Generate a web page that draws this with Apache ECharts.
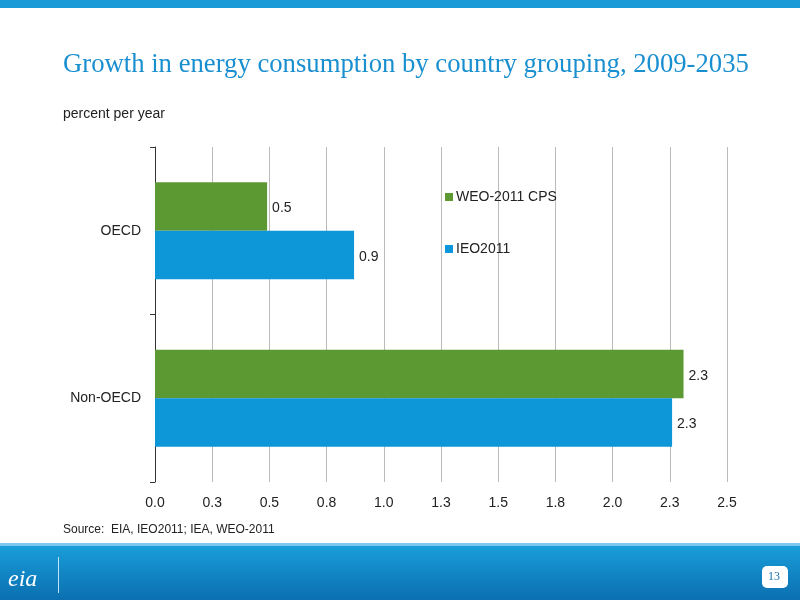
<!DOCTYPE html>
<html><head><meta charset="utf-8">
<script src="https://cdn.jsdelivr.net/npm/echarts@6/dist/echarts.min.js"></script>
<style>html,body{margin:0;padding:0;background:#fff}#chart{width:800px;height:600px}</style>
</head><body><div id="chart"></div>
<script>
// 数据
const categories = ['OECD', 'Non-OECD']
const weoValues = [0.49, 2.31]
const ieoValues = [0.87, 2.26]
const seriesNames = ['WEO-2011 CPS', 'IEO2011']

let chart = echarts.init(document.getElementById('chart'))

const barLabel = {
  show: true,
  position: 'right',
  color: '#222',
  fontSize: 14,
  fontFamily: 'Liberation Sans',
  offset: [0, 2],
  formatter: p => p.value.toFixed(1)
}

let option = {
  animation: false,
  textStyle: { fontFamily: 'Liberation Sans' },
  graphic: [
    { type: 'rect', shape: { x: 0, y: 0, width: 800, height: 8 }, style: { fill: '#1a9ad6' } },
    {
      type: 'rect', shape: { x: 0, y: 543, width: 800, height: 57 },
      style: {
        fill: new echarts.graphic.LinearGradient(0, 0, 0, 1, [
          { offset: 0, color: '#1aa0dc' }, { offset: 1, color: '#0b6fb0' }
        ])
      }
    },
    { type: 'rect', shape: { x: 0, y: 543, width: 800, height: 3 }, style: { fill: '#7cc8ee' } },
    { type: 'text', left: 8, top: 568, style: { text: 'eia', fill: '#fff', font: 'italic 24px Liberation Serif' } },
    { type: 'rect', shape: { x: 58, y: 557, width: 1, height: 36 }, style: { fill: '#bfe4f7' } },
    { type: 'rect', shape: { x: 762, y: 566, width: 26, height: 22, r: 5 }, style: { fill: '#fff' } },
    { type: 'text', left: 768, top: 571, style: { text: '13', fill: '#1a6fb0', font: '12px Liberation Serif' } },
    { type: 'text', left: 63, top: 51, style: { text: 'Growth in energy consumption by country grouping, 2009-2035', fill: '#1a8fd0', font: '26.7px Liberation Serif' } },
    { type: 'text', left: 63, top: 107, style: { text: 'percent per year', fill: '#222', font: '14px Liberation Sans' } },
    { type: 'text', left: 63, top: 524, style: { text: 'Source:  EIA, IEO2011; IEA, WEO-2011', fill: '#222', font: '12px Liberation Sans' } }
  ],
  legend: {
    orient: 'vertical',
    left: 440,
    top: 185,
    itemGap: 38,
    itemWidth: 8,
    itemHeight: 8,
    icon: 'rect',
    textStyle: { fontSize: 14, color: '#222', padding: [0, 0, 0, -2] },
    data: seriesNames
  },
  grid: { left: 155, right: 73, top: 147, bottom: 118, containLabel: false },
  xAxis: {
    type: 'value',
    min: 0,
    max: 2.5,
    interval: 0.25,
    axisLine: { show: false },
    axisTick: { show: false },
    axisLabel: { color: '#222', fontSize: 14, margin: 14, formatter: v => v.toFixed(1) },
    splitLine: { lineStyle: { color: '#bbb' } }
  },
  yAxis: {
    type: 'category',
    data: categories,
    inverse: true,
    axisLine: { lineStyle: { color: '#333' } },
    axisTick: { show: true, length: 5, lineStyle: { color: '#333' } },
    axisLabel: { color: '#222', fontSize: 14, margin: 14 }
  },
  series: [
    { name: seriesNames[0], type: 'bar', data: weoValues, itemStyle: { color: '#5c9933' }, barGap: '0%', barCategoryGap: '42%', label: barLabel },
    { name: seriesNames[1], type: 'bar', data: ieoValues, itemStyle: { color: '#0d96d8' }, label: barLabel }
  ]
}
chart.setOption(option)
</script></body></html>
